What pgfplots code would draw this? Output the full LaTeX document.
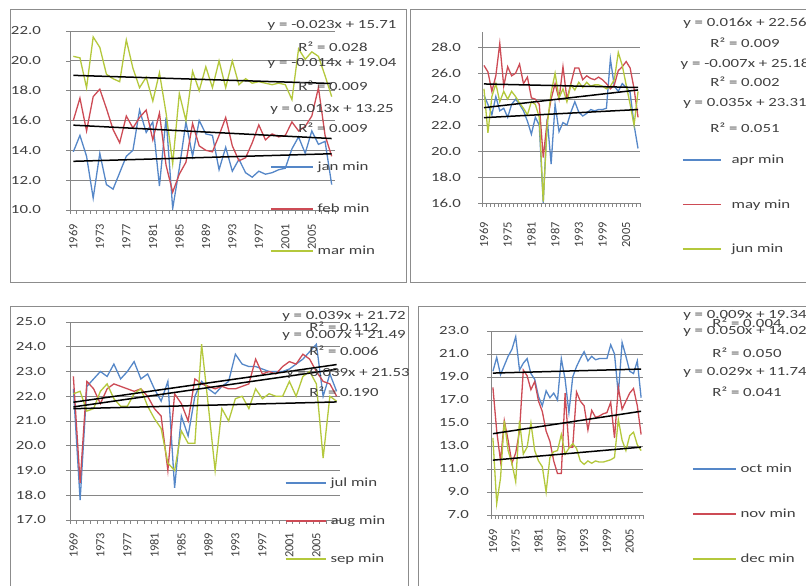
\documentclass[border=0pt]{standalone}
\usepackage{fontspec}
\setmainfont{Carlito}
\newfontfamily\widefont{Carlito}[FakeStretch=1.35]
\usepackage{pgfplots}
\pgfplotsset{compat=1.18}
\usepackage{pgfplotstable}
\definecolor{xblue}{RGB}{85,135,200}
\definecolor{xred}{RGB}{205,75,85}
\definecolor{xgreen}{RGB}{180,200,60}
\definecolor{gridg}{RGB}{134,134,134}
\definecolor{txt}{RGB}{64,64,64}
\definecolor{boxg}{RGB}{140,140,140}
\newcommand\wfont{\widefont\fontsize{12.5}{15}\selectfont}
\newcommand\yrfont{\fontsize{12.5}{15}\selectfont}
\tikzset{dataline/.style={line width=1.3bp},trend/.style={black,line width=1.5bp}}

\pgfplotstableread{
i a b c
1 13.9 16.0 20.3
2 15.0 17.5 20.2
3 13.6 15.3 18.2
4 10.8 17.6 21.6
5 13.8 18.1 20.9
6 11.7 16.8 19.1
7 11.4 15.4 18.8
8 12.5 14.5 18.6
9 13.6 16.3 21.4
10 14.0 15.5 19.5
11 16.7 16.2 18.2
12 15.2 16.7 18.9
13 15.9 14.7 17.3
14 11.6 16.5 19.2
15 16.2 13.0 16.5
16 10.1 11.2 13.1
17 12.8 12.4 17.8
18 15.9 13.2 16.0
19 13.6 15.8 19.3
20 16.0 14.3 18.0
21 15.1 14.0 19.6
22 15.0 13.9 18.2
23 12.7 15.0 20.0
24 14.2 16.2 18.2
25 12.6 14.3 20.0
26 13.4 13.3 18.4
27 12.5 13.5 18.8
28 12.2 14.5 18.5
29 12.6 15.7 18.6
30 12.4 14.7 18.5
31 12.5 15.1 18.4
32 12.7 14.9 18.5
33 12.8 15.0 18.4
34 14.1 15.9 17.4
35 14.9 15.3 20.8
36 13.8 15.6 20.1
37 15.3 16.3 20.6
38 14.4 18.2 20.3
39 14.6 15.0 19.0
40 11.7 13.6 17.6
}\tabA

\pgfplotstableread{
i a b c
1 24.3 26.6 24.8
2 23.6 26.1 21.4
3 22.8 24.6 24.2
4 24.2 25.8 25.2
5 23.1 28.3 23.8
6 23.3 25.0 24.6
7 22.6 26.5 24.0
8 23.6 25.8 24.6
9 24.0 26.0 24.2
10 23.6 26.7 23.7
11 23.1 25.2 23.3
12 22.3 25.7 22.8
13 21.3 24.1 23.8
14 22.6 24.0 23.6
15 22.0 23.6 22.6
16 16.0 19.5 16.1
17 22.5 22.3 22.0
18 19.0 24.0 24.5
19 23.6 25.2 26.0
20 21.5 24.0 24.1
21 22.2 26.5 24.8
22 22.0 24.0 23.8
23 23.0 25.2 25.1
24 23.8 26.4 24.7
25 23.0 26.4 25.3
26 22.7 25.5 24.9
27 22.9 25.8 25.3
28 23.2 25.6 25.0
29 23.1 25.5 25.1
30 23.2 25.7 25.1
31 23.2 25.5 25.0
32 23.3 25.2 24.8
33 27.1 24.8 25.0
34 25.0 25.1 25.5
35 24.6 26.2 27.6
36 25.2 26.5 26.6
37 24.9 26.9 25.1
38 24.5 26.4 23.6
39 22.0 24.8 22.0
40 20.2 22.6 24.6
}\tabB

\pgfplotstableread{
i a b c
1 22.3 22.8 22.1
2 17.8 18.5 22.2
3 22.4 22.6 21.4
4 22.7 22.3 21.5
5 23.0 21.7 22.2
6 22.8 22.3 22.5
7 23.3 22.5 21.9
8 22.7 22.4 21.6
9 23.0 22.3 21.6
10 23.4 22.2 22.1
11 22.7 22.3 22.3
12 22.9 22.0 21.6
13 22.3 21.5 21.1
14 21.8 21.2 20.7
15 22.6 19.0 19.3
16 18.3 22.1 19.0
17 21.2 21.7 20.6
18 20.4 21.0 20.1
19 22.0 22.7 20.1
20 22.6 22.5 24.1
21 22.3 22.4 21.6
22 22.1 22.3 19.0
23 22.4 22.4 21.5
24 22.6 22.3 21.0
25 23.7 22.3 21.9
26 23.3 22.4 22.0
27 23.2 22.5 21.5
28 23.2 23.5 22.3
29 23.1 22.9 21.9
30 23.0 23.0 22.1
31 23.0 22.9 22.0
32 23.0 23.2 22.0
33 23.1 23.4 22.6
34 23.3 23.3 22.0
35 23.5 23.7 22.8
36 23.8 23.5 23.0
37 24.1 23.0 22.5
38 22.0 22.6 19.5
39 22.9 22.5 22.0
40 22.2 22.0 21.8
}\tabC

\pgfplotstableread{
i a b c
1 19.5 18.1 13.7
2 20.7 14.3 8.0
3 19.2 11.7 10.2
4 20.0 15.2 15.2
5 20.8 13.5 12.6
6 21.4 11.5 11.5
7 22.5 12.4 9.9
8 19.6 14.3 15.2
9 20.2 19.6 12.3
10 20.6 19.1 12.9
11 19.3 17.9 15.0
12 18.8 18.6 12.6
13 17.3 16.9 11.7
14 16.5 16.0 11.2
15 17.8 14.3 9.0
16 17.2 13.4 12.0
17 17.6 11.7 12.5
18 17.0 10.6 12.6
19 20.6 10.6 14.0
20 18.8 17.6 12.3
21 15.9 12.9 12.8
22 19.0 12.9 13.2
23 19.9 17.7 12.8
24 20.6 16.9 11.7
25 21.2 16.5 11.4
26 20.4 14.4 11.7
27 20.8 16.1 11.5
28 20.5 15.5 11.7
29 20.6 15.6 11.6
30 20.6 15.8 11.6
31 20.6 15.9 11.7
32 21.8 16.8 11.8
33 21.0 13.7 12.0
34 17.5 18.1 15.3
35 22.0 16.2 13.5
36 20.8 16.9 12.6
37 19.5 17.6 13.9
38 19.3 18.0 14.2
39 20.4 16.5 13.1
40 17.2 14.0 12.6
}\tabD

\pgfplotsset{
  panel/.style={
    scale only axis, anchor=south west,
    xmin=0.5, xmax=40.5,
    axis lines*=left,
    axis line style={gridg, line width=0.8bp},
    ymajorgrids, grid style={gridg, line width=0.8bp},
    xtick={0.5,1.5,...,40.5}, xticklabels={},
    tick align=outside, major tick length=4bp,
    tick style={gridg, line width=0.6bp},
    extra x tick style={grid=none, major tick length=0pt},
    tick label style={inner sep=0pt, text=txt},
    xticklabel style={rotate=90, anchor=east, font=\yrfont},
    yticklabel style={anchor=east, font=\wfont,
      /pgf/number format/.cd, fixed, fixed zerofill, precision=1},
    /pgf/number format/assume math mode=true,
    legend cell align=left,
    legend style={draw=none, fill=none, inner sep=0pt, outer sep=0pt,
      font=\wfont, text=txt, anchor=north west, cells={anchor=west}},
  }
}

\begin{document}
\begin{tikzpicture}[x=1bp,y=1bp]
\useasboundingbox (0,0) rectangle (806,586);
\fill[white] (0,0) rectangle (806,586);
\draw[boxg, line width=1bp] (10,576) rectangle (406,303);
\draw[boxg, line width=1bp] (410,576) rectangle (812,303);
\draw[boxg, line width=1bp] (10,279) rectangle (408,-5);
\draw[boxg, line width=1bp] (418,279) rectangle (812,-5);

% Panel 1
\begin{axis}[panel, at={(70bp,376bp)}, width=265bp, height=179bp,
  ymin=10, ymax=22, ytick={10,12,...,22},
  extra x ticks={1,5,...,37},
  extra x tick labels={1969,1973,1977,1981,1985,1989,1993,1997,2001,2005},
  xticklabel shift=14bp, yticklabel shift=25bp,
  legend style={at={(axis description cs:0.755,0.279)}, row sep=28bp, column sep=2bp},
  legend image code/.code={\draw[#1, line width=1.6bp] (0bp,0bp) -- (42bp,0bp);}]
\addplot[xblue, dataline] table[x=i,y=a]{\tabA};
\addplot[xred, dataline] table[x=i,y=b]{\tabA};
\addplot[xgreen, dataline] table[x=i,y=c]{\tabA};
\addplot[trend, forget plot] coordinates {(1,13.263) (40,13.77)};
\addplot[trend, forget plot] coordinates {(1,15.687) (40,14.79)};
\addplot[trend, forget plot] coordinates {(1,19.026) (40,18.48)};
\legend{jan min, feb min, mar min}
\end{axis}

% Panel 2
\begin{axis}[panel, at={(482bp,383bp)}, width=158bp, height=171.3bp,
  ymin=16, ymax=29.2, ytick={16,18,...,28},
  extra x ticks={1,7,...,37},
  extra x tick labels={1969,1975,1981,1987,1993,1999,2005},
  xticklabel shift=19bp, yticklabel shift=17bp,
  legend style={at={(axis description cs:1.266,0.292)}, row sep=30.5bp, column sep=8bp},
  legend image code/.code={\draw[#1, line width=1.6bp] (0bp,0bp) -- (38bp,0bp);}]
\addplot[xblue, dataline] table[x=i,y=a]{\tabB};
\addplot[xred, dataline] table[x=i,y=b]{\tabB};
\addplot[xgreen, dataline] table[x=i,y=c]{\tabB};
\addplot[trend, forget plot] coordinates {(1,22.576) (40,23.2)};
\addplot[trend, forget plot] coordinates {(1,25.173) (40,24.9)};
\addplot[trend, forget plot] coordinates {(1,23.345) (40,24.71)};
\legend{apr min, may min, jun min}
\end{axis}

% Panel 3
\begin{axis}[panel, at={(70bp,66bp)}, width=270bp, height=198bp,
  ymin=17, ymax=25, ytick={17,18,...,25},
  extra x ticks={1,5,...,37},
  extra x tick labels={1969,1973,1977,1981,1985,1989,1993,1997,2001,2005},
  xticklabel shift=12.5bp, yticklabel shift=20bp,
  legend style={at={(axis description cs:0.796,0.222)}, row sep=24bp, column sep=2bp},
  legend image code/.code={\draw[#1, line width=1.6bp] (0bp,0bp) -- (40bp,0bp);}]
\addplot[xblue, dataline] table[x=i,y=a]{\tabC};
\addplot[xred, dataline] table[x=i,y=b]{\tabC};
\addplot[xgreen, dataline] table[x=i,y=c]{\tabC};
\addplot[trend, forget plot] coordinates {(1,21.759) (40,23.28)};
\addplot[trend, forget plot] coordinates {(1,21.569) (40,23.09)};
\addplot[trend, forget plot] coordinates {(1,21.497) (40,21.77)};
\legend{jul min, aug min, sep min}
\end{axis}

% Panel 4
\begin{axis}[panel, at={(491bp,71bp)}, width=152bp, height=184bp,
  ymin=7, ymax=23, ytick={7,9,...,23},
  extra x ticks={1,7,...,37},
  extra x tick labels={1969,1975,1981,1987,1993,1999,2005},
  xticklabel shift=13.5bp, yticklabel shift=18bp,
  legend style={at={(axis description cs:1.322,0.288)}, row sep=31bp, column sep=2bp},
  legend image code/.code={\draw[#1, line width=1.6bp] (0bp,0bp) -- (43bp,0bp);}]
\addplot[xblue, dataline] table[x=i,y=a]{\tabD};
\addplot[xred, dataline] table[x=i,y=b]{\tabD};
\addplot[xgreen, dataline] table[x=i,y=c]{\tabD};
\addplot[trend, forget plot] coordinates {(1,19.34) (40,19.69)};
\addplot[trend, forget plot] coordinates {(1,14.07) (40,16.02)};
\addplot[trend, forget plot] coordinates {(1,11.769) (40,12.9)};
\legend{oct min, nov min, dec min}
\end{axis}

\begin{scope}[every node/.style={font=\wfont, text=txt, inner sep=0pt, anchor=center}]
% Panel 1 equations
\node at (332,561) {y = -0.023x + 15.71};
\node at (333,539) {R² = 0.028};
\node at (332,523) {y = -0.014x + 19.04};
\node at (333,500) {R² = 0.009};
\node at (332,477) {y = 0.013x + 13.25};
\node at (333,458) {R² = 0.009};
% Panel 2 equations
\node at (745,563) {y = 0.016x + 22.56};
\node at (745,543) {R² = 0.009};
\node at (745,522) {y = -0.007x + 25.18};
\node at (745,504) {R² = 0.002};
\node at (745,483) {y = 0.035x + 23.31};
\node at (745,458) {R² = 0.051};
% Panel 4 equations
\node at (745,271) {y = 0.009x + 19.34};
\node at (747,263) {R² = 0.004};
\node at (745,255) {y = 0.050x + 14.02};
\node at (747,233) {R² = 0.050};
\node at (745,214) {y = 0.029x + 11.74};
\node at (747,194) {R² = 0.041};
\end{scope}
\begin{scope}
\clip (10,0) rectangle (410,586);
\begin{scope}[every node/.style={font=\wfont, text=txt, inner sep=0pt, anchor=center}]
\node at (344,270) {y = 0.039x + 21.72};
\node at (344,259) {R² = 0.112};
\node at (344,251) {y = 0.007x + 21.49};
\node at (344,235) {R² = 0.006};
\node at (348,213) {y = 0.039x + 21.53};
\node at (344,194) {R² = 0.190};
\end{scope}
\end{scope}
\end{tikzpicture}
\end{document}
